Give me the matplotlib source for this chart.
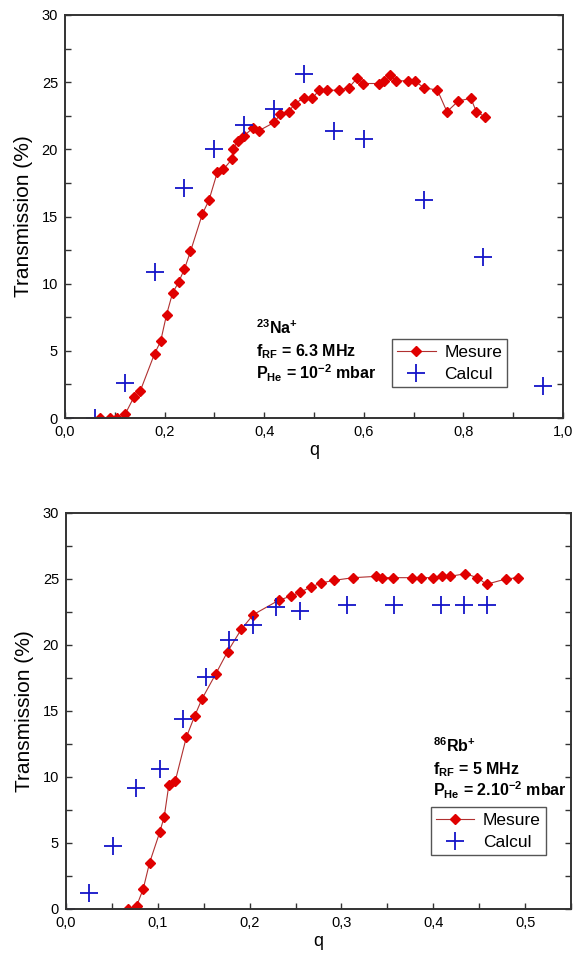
import matplotlib
matplotlib.use('Agg')
import matplotlib.pyplot as plt
from matplotlib.ticker import MultipleLocator

plt.rcParams['font.family'] = ['Liberation Sans', 'DejaVu Sans']
plt.rcParams['mathtext.fontset'] = 'custom'
plt.rcParams['mathtext.rm'] = 'Liberation Sans'
plt.rcParams['mathtext.bf'] = 'Liberation Sans:bold'
plt.rcParams['mathtext.it'] = 'Liberation Sans:italic'

# Na+ (haut)
na_mes_q = [0.070, 0.090, 0.105, 0.121, 0.139, 0.151, 0.180, 0.192, 0.204, 0.216, 0.228, 0.240,
            0.252, 0.276, 0.289, 0.306, 0.318, 0.336, 0.337, 0.347, 0.359, 0.378, 0.390, 0.420,
            0.432, 0.450, 0.461, 0.479, 0.497, 0.510, 0.527, 0.551, 0.570, 0.587, 0.599, 0.630,
            0.641, 0.653, 0.665, 0.688, 0.702, 0.720, 0.748, 0.767, 0.790, 0.815, 0.826, 0.844]
na_mes_t = [0.0, 0.0, 0.0, 0.3, 1.6, 2.0, 4.8, 5.7, 7.7, 9.3, 10.1, 11.1,
            12.4, 15.2, 16.2, 18.3, 18.5, 19.3, 20.0, 20.6, 21.0, 21.6, 21.4, 22.0,
            22.6, 22.8, 23.4, 23.8, 23.8, 24.4, 24.4, 24.4, 24.6, 25.3, 24.9, 24.9,
            25.1, 25.5, 25.1, 25.1, 25.1, 24.6, 24.4, 22.8, 23.6, 23.8, 22.8, 22.4]
na_calc_q = [0.0, 0.06, 0.12, 0.18, 0.24, 0.30, 0.36, 0.42, 0.48, 0.54, 0.60, 0.72, 0.84, 0.96]
na_calc_t = [0.0, 0.0, 2.6, 10.9, 17.1, 20.0, 21.8, 23.0, 25.6, 21.4, 20.8, 16.2, 12.0, 2.4]

# Rb+ (bas)
rb_mes_q = [0.068, 0.077, 0.084, 0.091, 0.102, 0.107, 0.112, 0.119, 0.131, 0.140, 0.148, 0.163,
            0.176, 0.191, 0.204, 0.232, 0.245, 0.255, 0.267, 0.278, 0.292, 0.313, 0.338, 0.344,
            0.356, 0.377, 0.387, 0.400, 0.410, 0.418, 0.435, 0.448, 0.458, 0.479, 0.492]
rb_mes_t = [0.0, 0.25, 1.5, 3.5, 5.8, 7.0, 9.4, 9.7, 13.0, 14.6, 15.9, 17.8,
            19.5, 21.2, 22.3, 23.4, 23.7, 24.0, 24.4, 24.7, 24.9, 25.1, 25.2, 25.1,
            25.1, 25.1, 25.1, 25.1, 25.2, 25.2, 25.4, 25.1, 24.6, 25.0, 25.1]
rb_calc_q = [0.0, 0.0255, 0.051, 0.0765, 0.102, 0.1275, 0.153, 0.178, 0.204, 0.229, 0.255,
             0.306, 0.357, 0.408, 0.433, 0.459]
rb_calc_t = [0.0, 1.2, 4.8, 9.2, 10.6, 14.4, 17.6, 20.4, 21.5, 22.9, 22.6,
             23.0, 23.0, 23.0, 23.0, 23.0]

y_ticks = [0, 5, 10, 15, 20, 25, 30]
na_x_ticks = [0.0, 0.2, 0.4, 0.6, 0.8, 1.0]
na_x_labels = ['0,0', '0,2', '0,4', '0,6', '0,8', '1,0']
rb_x_ticks = [0.0, 0.1, 0.2, 0.3, 0.4, 0.5]
rb_x_labels = ['0,0', '0,1', '0,2', '0,3', '0,4', '0,5']

na_text = [r'$\mathbf{^{23}Na^{+}}$', r'$\mathbf{f_{RF}}$ = 6.3 MHz', r'$\mathbf{P_{He}}$ = 10$\mathbf{^{-2}}$ mbar']
rb_text = [r'$\mathbf{^{86}Rb^{+}}$', r'$\mathbf{f_{RF}}$ = 5 MHz', r'$\mathbf{P_{He}}$ = 2.10$\mathbf{^{-2}}$ mbar']

RED = '#e00000'
LINE = '#b03030'
BLUE = '#1414c8'


def draw(ax, mq, mt, cq, ct, xticks, xlabels, xmax, xminor, texts, tx, tys, leg_pos):
    ax.plot(mq, mt, color=LINE, lw=0.8, marker='D', ms=4.8, mfc=RED, mec=RED, label='Mesure')
    ax.plot(cq, ct, ls='none', marker='+', ms=13, mew=1.3, color=BLUE, label='Calcul')
    ax.set_xlim(0, xmax)
    ax.set_ylim(0, 30)
    ax.set_xticks(xticks)
    ax.set_xticklabels(xlabels)
    ax.set_yticks(y_ticks)
    ax.xaxis.set_minor_locator(MultipleLocator(xminor))
    ax.yaxis.set_minor_locator(MultipleLocator(2.5))
    ax.tick_params(which='both', direction='in', length=4, width=1, labelsize=10.5,
                   right=True, top=False, color='#333333', pad=5)
    for s in ax.spines.values():
        s.set_linewidth(1.4)
        s.set_color('#333333')
    ax.set_xlabel('q', fontsize=13, labelpad=2)
    ax.set_ylabel('Transmission (%)', fontsize=15, labelpad=6)
    for t, y in zip(texts, tys):
        ax.text(tx, y, t, transform=ax.transAxes, fontsize=11.5, fontweight='bold',
                va='baseline', ha='left')
    leg = ax.legend(loc='lower left', bbox_to_anchor=leg_pos, borderaxespad=0,
                    fontsize=12.5, numpoints=1, fancybox=False, edgecolor='#555555',
                    framealpha=1, handlelength=2.2, handletextpad=0.5,
                    labelspacing=0.4, borderpad=0.3)
    leg.get_frame().set_linewidth(1.0)


fig = plt.figure(figsize=(5.74, 9.67), dpi=100)
ax1 = fig.add_axes([0.1132, 0.5677, 0.8676, 0.4168])
ax2 = fig.add_axes([0.1150, 0.0600, 0.8798, 0.4095])

draw(ax1, na_mes_q, na_mes_t, na_calc_q, na_calc_t, na_x_ticks, na_x_labels, 1.0, 0.1,
     na_text, 0.383, [0.208, 0.152, 0.097], (0.657, 0.077))
draw(ax2, rb_mes_q, rb_mes_t, rb_calc_q, rb_calc_t, rb_x_ticks, rb_x_labels, 0.55, 0.05,
     rb_text, 0.726, [0.397, 0.340, 0.284], (0.722, 0.136))

fig.savefig('out.png', dpi=100)
